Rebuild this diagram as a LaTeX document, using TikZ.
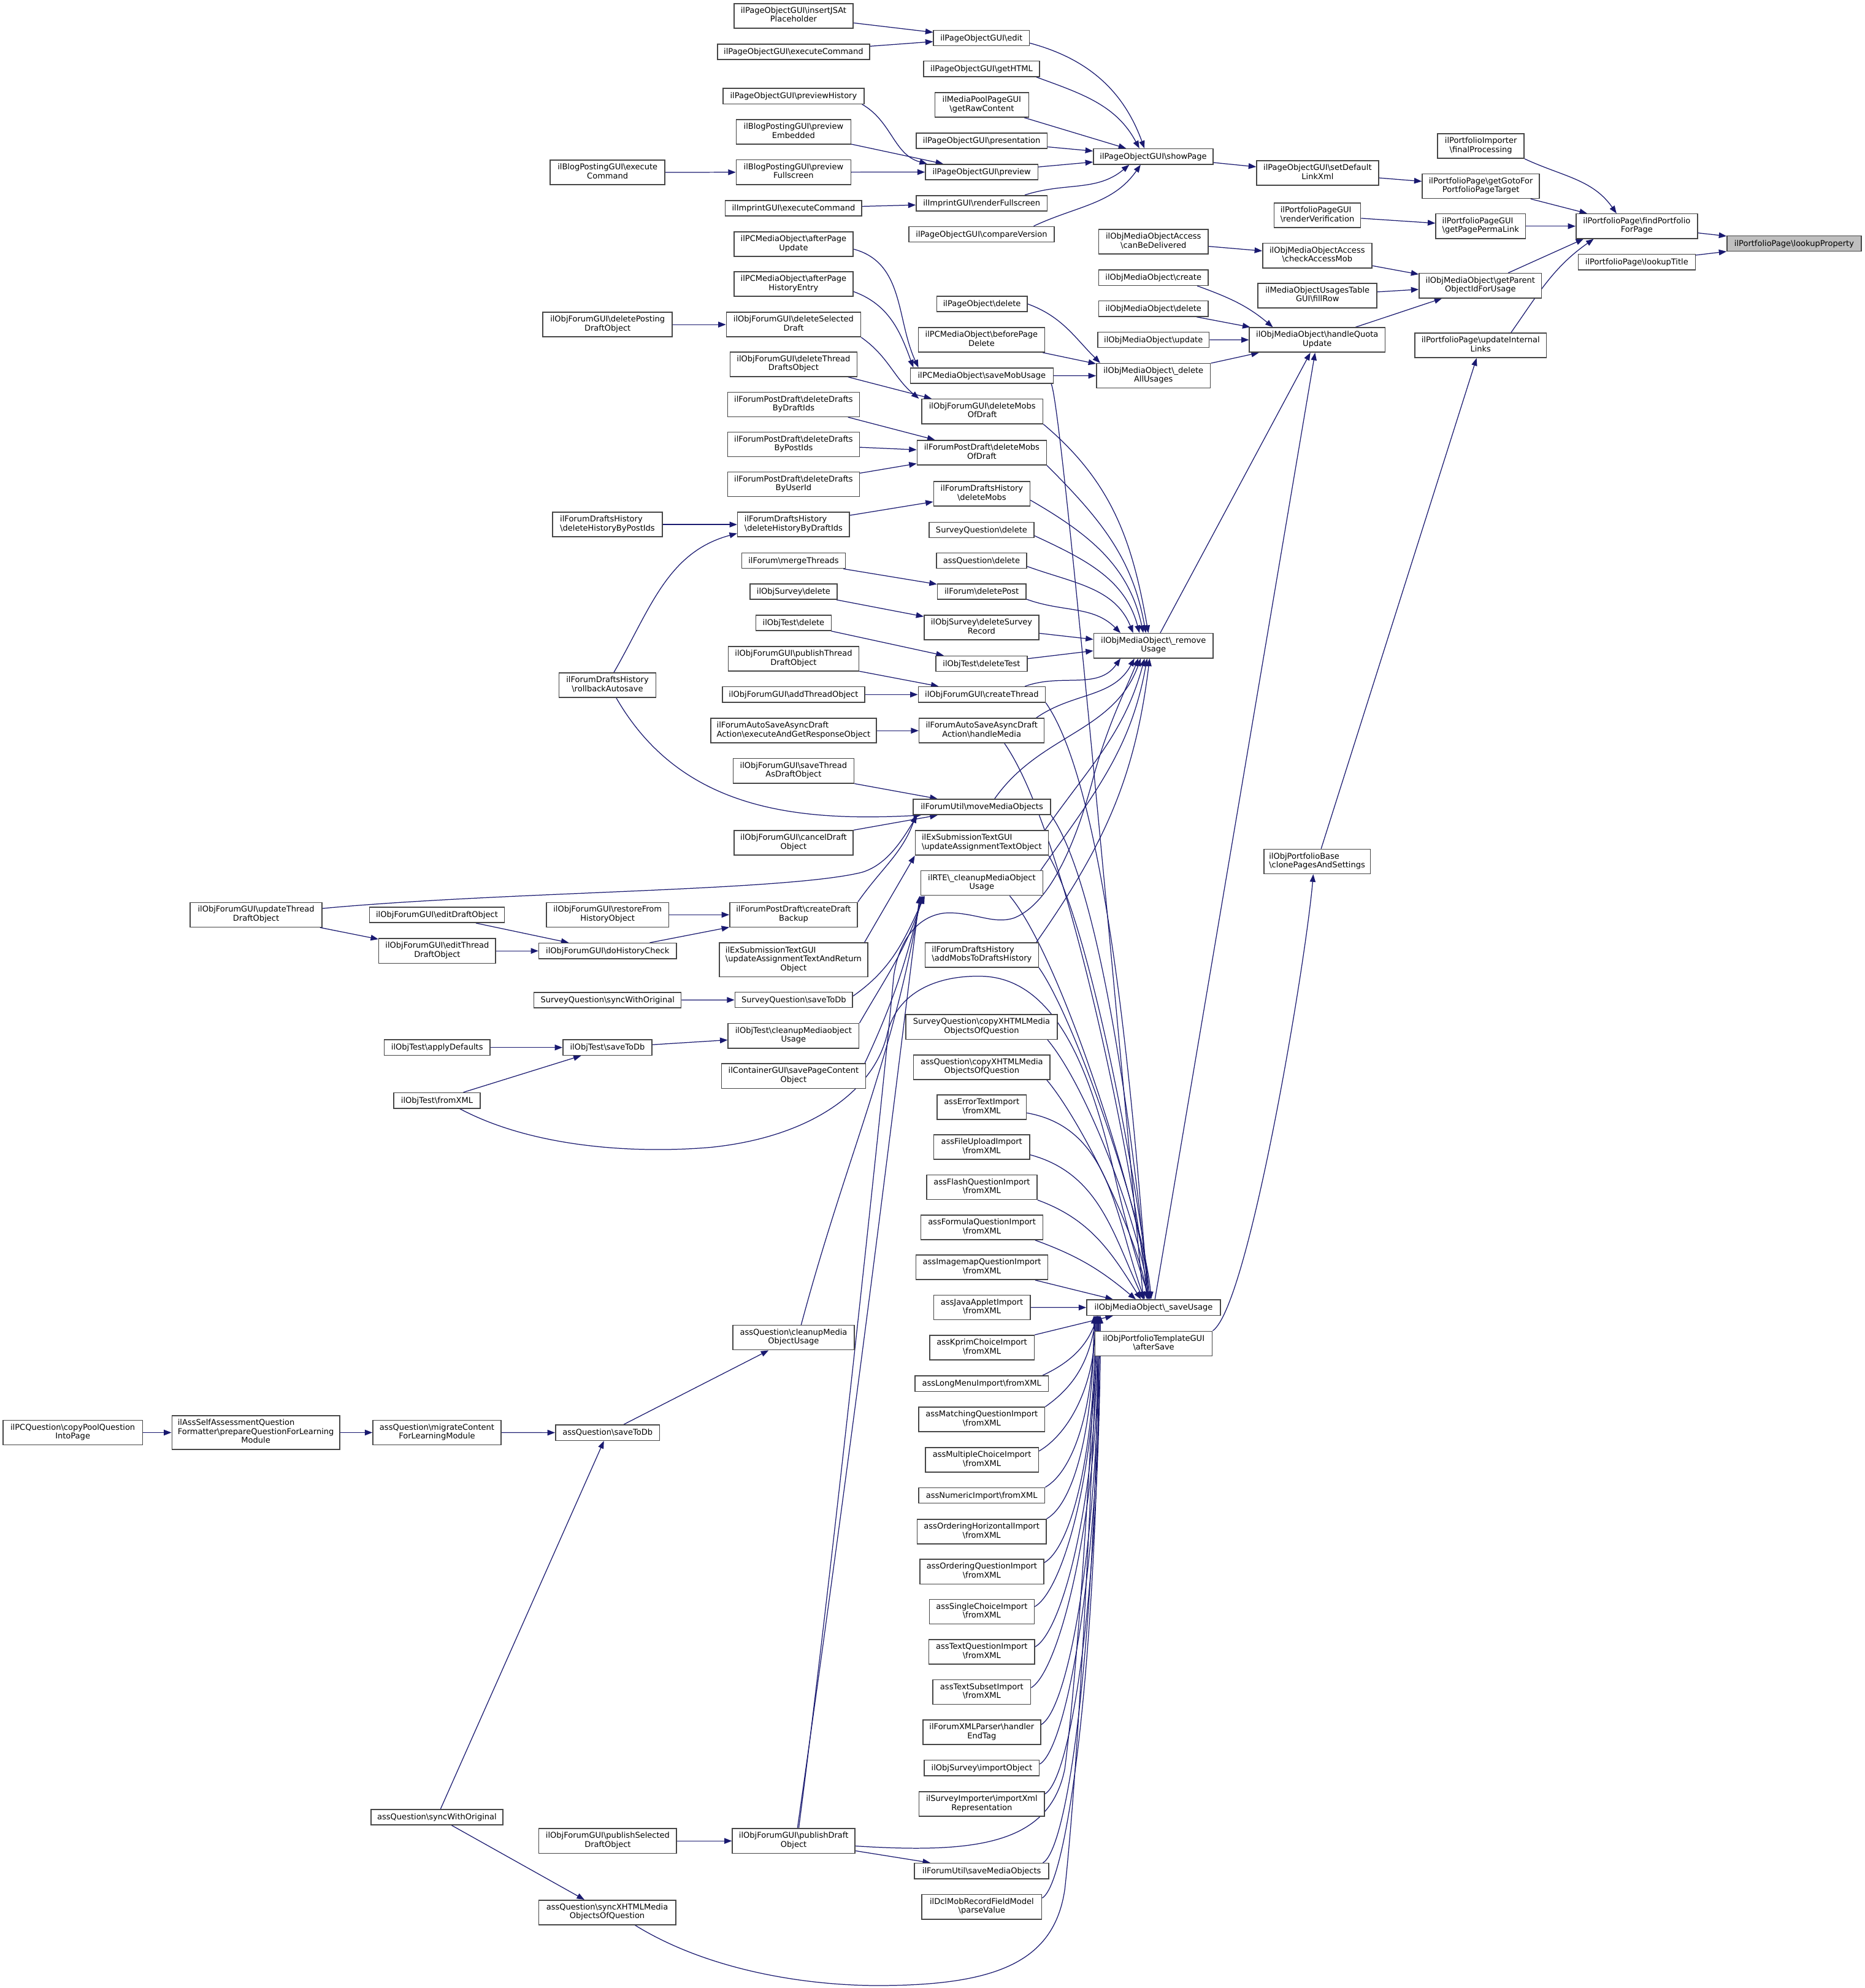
\documentclass[tikz,border=0pt]{standalone}
\usepackage{fontspec}
\newfontfamily\dvs{DejaVu Sans}
\usetikzlibrary{arrows.meta,backgrounds}
\definecolor{edgec}{RGB}{25,25,112}
\definecolor{boxc}{RGB}{70,70,70}
\definecolor{hlfill}{RGB}{191,191,191}
\newcommand\bs{\textbackslash}
\newcommand\TwoL[2]{\begin{tabular}{@{}c@{}}\multicolumn{1}{@{}l@{}}{#1}\\#2\end{tabular}}
\newcommand\ThreeL[3]{\begin{tabular}{@{}c@{}}\multicolumn{1}{@{}l@{}}{#1}\\#2\\#3\end{tabular}}
\begin{document}
\begin{tikzpicture}[x=1pt,y=1pt,
  bx/.style={draw=boxc,line width=0.75pt,fill=white,inner xsep=3pt,inner ysep=0pt,font=\dvs\fontsize{6.3}{7}\selectfont},
  b1/.style={bx,minimum height=12.2pt,text height=5.2pt,text depth=1.2pt},
  b2/.style={bx,minimum height=19.4pt},
  b3/.style={bx,minimum height=26.7pt},
  hl/.style={fill=hlfill},
  edg/.style={draw=edgec,line width=0.6pt,-{Triangle[length=6pt,width=4.5pt]}},
]
\useasboundingbox (0,0) rectangle (1471,-1568);
% column 1415
\node[b1,hl,minimum width=105.9pt] (lp) at (1415.3,-192.1) {ilPortfolioPage\bs lookupProperty};
% column 1291
\node[b2,minimum width=95.9pt] (fpp) at (1291.2,-178.4) {\TwoL{ilPortfolioPage\bs findPortfolio}{ForPage}};
\node[b1,minimum width=92.4pt] (lt) at (1291.2,-206.7) {ilPortfolioPage\bs lookupTitle};
% column 1168
\node[b2,minimum width=68.3pt] (fpi) at (1168.2,-115.2) {\TwoL{ilPortfolioImporter}{\bs finalProcessing}};
\node[b2,minimum width=92.5pt] (ggf) at (1168.2,-146.8) {\TwoL{ilPortfolioPage\bs getGotoFor}{PortfolioPageTarget}};
\node[b2,minimum width=70.7pt] (gppl) at (1168,-178.4) {\TwoL{ilPortfolioPageGUI}{\bs getPagePermaLink}};
\node[b2,minimum width=96.6pt] (gpo) at (1167.8,-225.3) {\TwoL{ilObjMediaObject\bs getParent}{ObjectIdForUsage}};
\node[b2,minimum width=103.6pt] (uil) at (1168,-272.4) {\TwoL{ilPortfolioPage\bs updateInternal}{Links}};
% column 1039
\node[b2,minimum width=96.2pt] (sdl) at (1039.4,-136.4) {\TwoL{ilPageObjectGUI\bs setDefault}{LinkXml}};
\node[b2,minimum width=68.3pt] (rv) at (1039.2,-169.9) {\TwoL{ilPortfolioPageGUI}{\bs renderVerification}};
\node[b2,minimum width=86.1pt] (cam) at (1039.1,-201.6) {\TwoL{ilObjMediaObjectAccess}{\bs checkAccessMob}};
\node[b2,minimum width=93.9pt] (fr) at (1039.3,-233.1) {\TwoL{ilMediaObjectUsagesTable}{GUI\bs fillRow}};
\node[b2,minimum width=107pt] (hqu) at (1039.1,-268.1) {\TwoL{ilObjMediaObject\bs handleQuota}{Update}};
\node[b2,minimum width=84pt] (cps) at (1039,-679.5) {\TwoL{ilObjPortfolioBase}{\bs clonePagesAndSettings}};
% column 910
\node[b1,minimum width=94.5pt] (sp) at (909.8,-123.5) {ilPageObjectGUI\bs showPage};
\node[b2,minimum width=86.3pt] (cbd) at (909.9,-190.6) {\TwoL{ilObjMediaObjectAccess}{\bs canBeDelivered}};
\node[b1,minimum width=86.3pt] (cre) at (909.9,-219) {ilObjMediaObject\bs create};
\node[b1,minimum width=86.3pt] (del) at (909.9,-243.5) {ilObjMediaObject\bs delete};
\node[b1,minimum width=87.8pt] (upd) at (909.9,-268) {ilObjMediaObject\bs update};
\node[b2,minimum width=89.9pt] (dau) at (909.9,-296.4) {\TwoL{ilObjMediaObject\bs\_delete}{AllUsages}};
\node[b2,minimum width=94.2pt] (rm) at (909.9,-509.3) {\TwoL{ilObjMediaObject\bs\_remove}{Usage}};
\node[b1,minimum width=105.5pt] (su) at (910,-1031.3) {ilObjMediaObject\bs\_saveUsage};
\node[b2,minimum width=92.4pt] (as) at (910.1,-1059.7) {\TwoL{ilObjPortfolioTemplateGUI}{\bs afterSave}};
% column 774
\node[b1,minimum width=75.6pt] (edit) at (774.2,-30) {ilPageObjectGUI\bs edit};
\node[b1,minimum width=91.5pt] (gh) at (774.3,-54.3) {ilPageObjectGUI\bs getHTML};
\node[b2,minimum width=74pt] (grc) at (774.5,-82.7) {\TwoL{ilMediaPoolPageGUI}{\bs getRawContent}};
\node[b1,minimum width=103.3pt] (pres) at (774.4,-111.1) {ilPageObjectGUI\bs presentation};
\node[b1,minimum width=88.7pt] (prev) at (774.4,-135.7) {ilPageObjectGUI\bs preview};
\node[b1,minimum width=103.3pt] (rf) at (774.4,-160.3) {ilImprintGUI\bs renderFullscreen};
\node[b1,minimum width=114.5pt] (cv) at (774.3,-184.8) {ilPageObjectGUI\bs compareVersion};
\node[b1,minimum width=71.3pt] (pod) at (774.6,-239.7) {ilPageObject\bs delete};
\node[b2,minimum width=99.5pt] (bpd) at (774.3,-268) {\TwoL{ilPCMediaObject\bs beforePage}{Delete}};
\node[b1,minimum width=112.8pt] (smu) at (774.5,-296.3) {ilPCMediaObject\bs saveMobUsage};
\node[b2,minimum width=95.6pt] (dmda) at (774.9,-324.5) {\TwoL{ilObjForumGUI\bs deleteMobs}{OfDraft}};
\node[b2,minimum width=102pt] (dmdb) at (774.5,-357) {\TwoL{ilForumPostDraft\bs deleteMobs}{OfDraft}};
\node[b2,minimum width=76pt] (dmob) at (774.5,-389.5) {\TwoL{ilForumDraftsHistory}{\bs deleteMobs}};
\node[b1,minimum width=82.6pt] (sqd) at (774.3,-418) {SurveyQuestion\bs delete};
\node[b1,minimum width=71.1pt] (aqd) at (774.3,-442.2) {assQuestion\bs delete};
\node[b1,minimum width=69.8pt] (dp) at (774.4,-466.6) {ilForum\bs deletePost};
\node[b2,minimum width=90.5pt] (dsr) at (774.3,-495) {\TwoL{ilObjSurvey\bs deleteSurvey}{Record}};
\node[b1,minimum width=72.1pt] (dt) at (774.3,-523.5) {ilObjTest\bs deleteTest};
\node[b1,minimum width=100.2pt] (ct) at (774.5,-547.8) {ilObjForumGUI\bs createThread};
\node[b2,minimum width=98.7pt] (hm) at (774.4,-576.3) {\TwoL{ilForumAutoSaveAsyncDraft}{Action\bs handleMedia}};
\node[b1,minimum width=108.3pt] (mmo) at (774.6,-636.5) {ilForumUtil\bs moveMediaObjects};
\node[b2,minimum width=104.9pt] (uato) at (774.5,-664.8) {\TwoL{ilExSubmissionTextGUI}{\bs updateAssignmentTextObject}};
\node[b2,minimum width=96.2pt] (cmu) at (774.5,-696.5) {\TwoL{ilRTE\bs\_cleanupMediaObject}{Usage}};
\node[b2,minimum width=89.4pt] (amdh) at (774.5,-753.2) {\TwoL{ilForumDraftsHistory}{\bs addMobsToDraftsHistory}};
\node[b2,minimum width=119.3pt] (sqc) at (774.3,-810) {\TwoL{SurveyQuestion\bs copyXHTMLMedia}{ObjectsOfQuestion}};
\node[b2,minimum width=107.7pt] (aqc) at (774.5,-841.7) {\TwoL{assQuestion\bs copyXHTMLMedia}{ObjectsOfQuestion}};
\node[b2,minimum width=70.4pt] (aet) at (774.4,-873.3) {\TwoL{assErrorTextImport}{\bs fromXML}};
\node[b2,minimum width=75.6pt] (afu) at (774.4,-904.8) {\TwoL{assFileUploadImport}{\bs fromXML}};
\node[b2,minimum width=87.2pt] (afl) at (774.5,-936.4) {\TwoL{assFlashQuestionImport}{\bs fromXML}};
\node[b2,minimum width=96.2pt] (afo) at (774.6,-968.1) {\TwoL{assFormulaQuestionImport}{\bs fromXML}};
\node[b2,minimum width=104pt] (aim) at (774.6,-999.6) {\TwoL{assImagemapQuestionImport}{\bs fromXML}};
\node[b2,minimum width=76.2pt] (aja) at (774.6,-1031.2) {\TwoL{assJavaAppletImport}{\bs fromXML}};
\node[b2,minimum width=82.6pt] (akc) at (774.6,-1062.9) {\TwoL{assKprimChoiceImport}{\bs fromXML}};
\node[b1,minimum width=105.2pt] (alm) at (774.4,-1091.3) {assLongMenuImport\bs fromXML};
\node[b2,minimum width=99.4pt] (amq) at (774.5,-1119.6) {\TwoL{assMatchingQuestionImport}{\bs fromXML}};
\node[b2,minimum width=89.3pt] (amc) at (774.6,-1151.5) {\TwoL{assMultipleChoiceImport}{\bs fromXML}};
\node[b1,minimum width=99.6pt] (anu) at (774.4,-1179.5) {assNumericImport\bs fromXML};
\node[b2,minimum width=101.8pt] (aoh) at (774.4,-1208) {\TwoL{assOrderingHorizontalImport}{\bs fromXML}};
\node[b2,minimum width=97.6pt] (aoq) at (774.5,-1239.6) {\TwoL{assOrderingQuestionImport}{\bs fromXML}};
\node[b2,minimum width=82.8pt] (asc) at (774.5,-1271.2) {\TwoL{assSingleChoiceImport}{\bs fromXML}};
\node[b2,minimum width=83.5pt] (atq) at (774.5,-1302.9) {\TwoL{assTextQuestionImport}{\bs fromXML}};
\node[b2,minimum width=77.2pt] (ats) at (774.5,-1334.6) {\TwoL{assTextSubsetImport}{\bs fromXML}};
\node[b2,minimum width=93pt] (fxp) at (774.5,-1366.2) {\TwoL{ilForumXMLParser\bs handler}{EndTag}};
\node[b1,minimum width=90.6pt] (sio) at (774.5,-1394.4) {ilObjSurvey\bs importObject};
\node[b2,minimum width=98.9pt] (sim) at (774.5,-1422.9) {\TwoL{ilSurveyImporter\bs importXml}{Representation}};
\node[b1,minimum width=105.9pt] (smo) at (774.4,-1475.7) {ilForumUtil\bs saveMediaObjects};
\node[b2,minimum width=94.5pt] (dcl) at (774.5,-1504) {\TwoL{ilDclMobRecordFieldModel}{\bs parseValue}};
% column 626
\node[b2,minimum width=94pt] (insJS) at (626,-12.5) {\TwoL{ilPageObjectGUI\bs insertJSAt}{Placeholder}};
\node[b1,minimum width=120pt] (exec) at (626,-40.9) {ilPageObjectGUI\bs executeCommand};
\node[b1,minimum width=111.4pt] (ph) at (626,-75.8) {ilPageObjectGUI\bs previewHistory};
\node[b2,minimum width=90.4pt] (pe) at (626,-104) {\TwoL{ilBlogPostingGUI\bs preview}{Embedded}};
\node[b2,minimum width=90.4pt] (pf) at (626,-135.8) {\TwoL{ilBlogPostingGUI\bs preview}{Fullscreen}};
\node[b1,minimum width=107.7pt] (iec) at (626,-164.2) {ilImprintGUI\bs executeCommand};
\node[b2,minimum width=94pt] (apu) at (626,-192.5) {\TwoL{ilPCMediaObject\bs afterPage}{Update}};
\node[b2,minimum width=94pt] (aphe) at (626,-224) {\TwoL{ilPCMediaObject\bs afterPage}{HistoryEntry}};
\node[b2,minimum width=106pt] (dsd) at (626,-256) {\TwoL{ilObjForumGUI\bs deleteSelected}{Draft}};
\node[b2,minimum width=100pt] (dtdo) at (626,-287.3) {\TwoL{ilObjForumGUI\bs deleteThread}{DraftsObject}};
\node[b2,minimum width=104pt] (ddbd) at (626,-319) {\TwoL{ilForumPostDraft\bs deleteDrafts}{ByDraftIds}};
\node[b2,minimum width=104pt] (ddbp) at (626,-350.5) {\TwoL{ilForumPostDraft\bs deleteDrafts}{ByPostIds}};
\node[b2,minimum width=104pt] (ddbu) at (626,-382) {\TwoL{ilForumPostDraft\bs deleteDrafts}{ByUserId}};
\node[b2,minimum width=88.3pt] (dhbd) at (626,-413.7) {\TwoL{ilForumDraftsHistory}{\bs deleteHistoryByDraftIds}};
\node[b1,minimum width=81.8pt] (mt) at (626,-442.2) {ilForum\bs mergeThreads};
\node[b1,minimum width=68.9pt] (osd) at (626,-466.6) {ilObjSurvey\bs delete};
\node[b1,minimum width=59.4pt] (otd) at (626,-491.3) {ilObjTest\bs delete};
\node[b2,minimum width=103.1pt] (ptdo) at (626,-519.6) {\TwoL{ilObjForumGUI\bs publishThread}{DraftObject}};
\node[b1,minimum width=112.2pt] (ato) at (626,-547.8) {ilObjForumGUI\bs addThreadObject};
\node[b2,minimum width=130.8pt] (eagr) at (626,-576.3) {\TwoL{ilForumAutoSaveAsyncDraft}{Action\bs executeAndGetResponseObject}};
\node[b2,minimum width=95.4pt] (stad) at (626,-608) {\TwoL{ilObjForumGUI\bs saveThread}{AsDraftObject}};
\node[b2,minimum width=94pt] (cdo) at (626,-664.8) {\TwoL{ilObjForumGUI\bs cancelDraft}{Object}};
\node[b2,minimum width=100.7pt] (cdb) at (626,-721.5) {\TwoL{ilForumPostDraft\bs createDraft}{Backup}};
\node[b3,minimum width=117.2pt] (uatr) at (626,-757) {\ThreeL{ilExSubmissionTextGUI}{\bs updateAssignmentTextAndReturn}{Object}};
\node[b1,minimum width=92.8pt] (sqsd) at (626.2,-788.6) {SurveyQuestion\bs saveToDb};
\node[b2,minimum width=103.3pt] (tcmu) at (626,-817) {\TwoL{ilObjTest\bs cleanupMediaobject}{Usage}};
\node[b2,minimum width=113.6pt] (spco) at (626,-848.7) {\TwoL{ilContainerGUI\bs savePageContent}{Object}};
\node[b2,minimum width=95.6pt] (aqcmu) at (626,-1055) {\TwoL{assQuestion\bs cleanupMedia}{ObjectUsage}};
\node[b2,minimum width=96.7pt] (pdo) at (626.1,-1452) {\TwoL{ilObjForumGUI\bs publishDraft}{Object}};
% column 479
\node[b2,minimum width=90.5pt] (bpe) at (479.3,-136) {\TwoL{ilBlogPostingGUI\bs execute}{Command}};
\node[b2,minimum width=102.1pt] (dpdo) at (479.3,-256) {\TwoL{ilObjForumGUI\bs deletePosting}{DraftObject}};
\node[b2,minimum width=86.8pt] (dhbp) at (479.2,-413.7) {\TwoL{ilForumDraftsHistory}{\bs deleteHistoryByPostIds}};
\node[b2,minimum width=76.3pt] (rba) at (479.2,-540.5) {\TwoL{ilForumDraftsHistory}{\bs rollbackAutosave}};
\node[b2,minimum width=96.6pt] (rfh) at (479.3,-721.5) {\TwoL{ilObjForumGUI\bs restoreFrom}{HistoryObject}};
\node[b1,minimum width=108.4pt] (dhc) at (479.3,-750) {ilObjForumGUI\bs doHistoryCheck};
\node[b1,minimum width=116.1pt] (sqs) at (479.3,-788.8) {SurveyQuestion\bs syncWithOriginal};
\node[b1,minimum width=70.3pt] (tsd) at (479.2,-826.2) {ilObjTest\bs saveToDb};
\node[b1,minimum width=82.2pt] (aqsd) at (479.3,-1130) {assQuestion\bs saveToDb};
\node[b2,minimum width=108.7pt] (psdo) at (479.4,-1452) {\TwoL{ilObjForumGUI\bs publishSelected}{DraftObject}};
\node[b2,minimum width=108.1pt] (sxm) at (479,-1508.4) {\TwoL{assQuestion\bs syncXHTMLMedia}{ObjectsOfQuestion}};
% column 345
\node[b1,minimum width=106.4pt] (edo) at (344.7,-721.6) {ilObjForumGUI\bs editDraftObject};
\node[b2,minimum width=92.2pt] (etdo) at (344.9,-750) {\TwoL{ilObjForumGUI\bs editThread}{DraftObject}};
\node[b1,minimum width=83.5pt] (tad) at (344.8,-826.2) {ilObjTest\bs applyDefaults};
\node[b1,minimum width=68pt] (tfx) at (344.7,-868) {ilObjTest\bs fromXML};
\node[b2,minimum width=101.1pt] (mc) at (344.7,-1129.9) {\TwoL{assQuestion\bs migrateContent}{ForLearningModule}};
\node[b1,minimum width=104pt] (aqswo) at (344.7,-1433.2) {assQuestion\bs syncWithOriginal};
% far left
\node[b2,minimum width=104pt] (utdo) at (202,-721.5) {\TwoL{ilObjForumGUI\bs updateThread}{DraftObject}};
\node[b3,minimum width=132.4pt] (pq) at (201.8,-1129.9) {\ThreeL{ilAssSelfAssessmentQuestion}{Formatter\bs prepareQuestionForLearning}{Module}};
\node[b2,minimum width=110pt] (cpq) at (57.4,-1129.9) {\TwoL{ilPCQuestion\bs copyPoolQuestion}{IntoPage}};

\begin{pgfonlayer}{background}
\fill[white] (0,0) rectangle (1471,-1568);
% top block
\draw[edg] (insJS) -- (edit);
\draw[edg] (exec) -- (edit);
\draw[edg] ([yshift=-4pt]edit.east) to[out=-15,in=110] ([xshift=-7pt]sp.north);
\draw[edg] ([xshift=-3pt]gh.south east) to[out=-20,in=118] ([xshift=-11pt]sp.north);
\draw[edg] (grc) -- (sp);
\draw[edg] (pres) -- (sp);
\draw[edg] (prev) -- (sp);
\draw[edg] ([xshift=-18pt]rf.north east) to[out=18,in=-140] ([xshift=-19pt]sp.south);
\draw[edg] ([xshift=-16.5pt]cv.north east) to[out=25,in=-125] ([xshift=-10pt]sp.south);
\draw[edg] ([xshift=-2pt]ph.south east) to[out=-30,in=165] ([xshift=-43pt]prev.north);
\draw[edg] (pe) -- (prev);
\draw[edg] (pf) -- (prev);
\draw[edg] (bpe) -- (pf);
\draw[edg] (iec) -- (rf);
\draw[edg] (sp) -- (sdl);
\draw[edg] (sdl) -- (ggf);
\draw[edg] (rv) -- (gppl);
\draw[edg] (ggf) -- (fpp);
\draw[edg] (fpi.south east) to[out=-25,in=125] ([xshift=-16pt]fpp.north);
\draw[edg] (gppl) -- (fpp);
\draw[edg] ([xshift=22pt]gpo.north) -- ([xshift=-42pt]fpp.south);
\draw[edg] ([xshift=24pt]uil.north) to[out=55,in=-145] ([xshift=-34pt]fpp.south);
\draw[edg] (fpp) -- (lp);
\draw[edg] (lt) -- (lp);
\draw[edg] (cbd) -- (cam);
\draw[edg] (cam) -- (gpo);
\draw[edg] (fr) -- (gpo);
\draw[edg] (hqu) -- (gpo);
\draw[edg] ([xshift=-9pt]cre.south east) to[out=-20,in=140] ([xshift=-35pt]hqu.north);
\draw[edg] (del) -- (hqu);
\draw[edg] (upd) -- (hqu);
\draw[edg] (dau) -- (hqu);
\draw[edg] (rm) -- (hqu);
\draw[edg] (su) -- (hqu);
\draw[edg] (as.north east) .. controls (985,-1030) and (1030,-760) .. ([xshift=-3pt]cps.south);
\draw[edg] (cps) -- (uil);
\draw[edg] (pod.east) to[out=-20,in=135] ([xshift=-42pt]dau.north);
\draw[edg] (bpd) -- (dau);
\draw[edg] (smu) -- (dau);
\draw[edg] ([xshift=-2pt]smu.south east) .. controls (838,-320) and (885,-850) .. ([xshift=-8pt]su.north);
\draw[edg] ([yshift=-4pt]apu.east) to[out=-15,in=115] ([xshift=-50pt]smu.north);
\draw[edg] ([yshift=-6pt]aphe.east) to[out=-20,in=110] ([xshift=-54pt]smu.north);
\draw[edg] (dsd.south east) to[out=-35,in=140] ([xshift=-50pt]dmda.north);
\draw[edg] ([xshift=43pt]dtdo.south) -- ([xshift=-40pt]dmda.north);
\draw[edg] (dpdo) -- (dsd);
\draw[edg] ([xshift=43pt]ddbd.south) -- ([xshift=-37pt]dmdb.north);
\draw[edg] (ddbp) -- (dmdb);
\draw[edg] (ddbu) -- (dmdb);
\draw[edg] (dhbd) -- (dmob);
\draw[edg] (dhbp) -- (dhbd);
\draw[edg] ([xshift=5pt]rba.north) to[out=60,in=195] ([yshift=-7pt]dhbd.west);
\draw[edg] ([xshift=7pt]rba.south) to[out=-60,in=183] ([xshift=-48pt]mmo.south);
\draw[edg] (mt) -- (dp);
\draw[edg] (osd) -- (dsr);
\draw[edg] (otd) -- (dt);
\draw[edg] (ptdo) -- (ct);
\draw[edg] (ato) -- (ct);
\draw[edg] (eagr) -- (hm);
\draw[edg] (stad.south east) -- ([xshift=-35pt]mmo.north);
\draw[edg] (cdo.north east) -- ([xshift=-35pt]mmo.south);
\draw[edg] (cdb.north east) to[out=55,in=-110] ([xshift=-52pt]mmo.south);
\draw[edg] ([yshift=5pt]utdo.east) .. controls (400,-703) and (620,-703) .. (680,-688) .. controls (700,-682) and (712,-662) .. ([xshift=-51pt]mmo.south);
\draw[edg] ([xshift=-3pt]uatr.north east) to[out=60,in=-120] (uato.south west);
\draw[edg] (sqs) -- (sqsd);
\draw[edg] ([yshift=3pt]sqsd.east) to[out=35,in=-115] ([xshift=-45pt]cmu.south);
\draw[edg] (tsd) -- (tcmu);
\draw[edg] (tad) -- (tsd);
\draw[edg] (tfx) -- (tsd);
\draw[edg] (tcmu.north east) to[out=60,in=-108] ([xshift=-46pt]cmu.south);
\draw[edg] ([xshift=-1pt]spco.north east) to[out=65,in=-104] ([xshift=-47pt]cmu.south);
\draw[edg] ([xshift=6pt]aqcmu.north) to[out=75,in=-100] ([xshift=-48pt]cmu.south);
\draw[edg] ([xshift=3pt]pdo.north) to[out=82,in=-97] ([xshift=-49pt]cmu.south);
\draw[edg] (rfh) -- (cdb);
\draw[edg] (dhc) -- (cdb);
\draw[edg] (edo) -- (dhc);
\draw[edg] (etdo) -- (dhc);
\draw[edg] (utdo) -- (etdo);
\draw[edg] (aqsd) -- (aqcmu);
\draw[edg] (mc) -- (aqsd);
\draw[edg] (pq) -- (mc);
\draw[edg] (cpq) -- (pq);
\draw[edg] (aqswo) -- (aqsd);
\draw[edg] (aqswo) -- (sxm);
\draw[edg] (psdo) -- (pdo);
\draw[edg] (pdo) -- (smo);
% into _removeUsage
\draw[edg] (dmda.south east) to[out=-40,in=100] ([xshift=-4pt]rm.north);
\draw[edg] (dmdb.south east) to[out=-45,in=100] ([xshift=-6pt]rm.north);
\draw[edg] ([yshift=-5pt]dmob.east) to[out=-30,in=102] ([xshift=-8pt]rm.north);
\draw[edg] ([yshift=-4.5pt]sqd.east) to[out=-25,in=105] ([xshift=-11pt]rm.north);
\draw[edg] ([yshift=-4.5pt]aqd.east) to[out=-20,in=112] ([xshift=-16pt]rm.north);
\draw[edg] ([yshift=-6pt]dp.east) to[out=-20,in=135] ([xshift=-26pt]rm.north);
\draw[edg] ([yshift=-4.5pt]dsr.east) -- ([yshift=5pt]rm.west);
\draw[edg] ([yshift=4pt]dt.east) -- ([yshift=-4pt]rm.west);
\draw[edg] ([xshift=34pt]ct.north) to[out=20,in=-125] ([xshift=-26pt]rm.south);
\draw[edg] ([xshift=43pt]hm.north) to[out=35,in=-118] ([xshift=-15pt]rm.south);
\draw[edg] ([xshift=10pt]mmo.north) to[out=55,in=-110] ([xshift=-10pt]rm.south);
\draw[edg] ([xshift=-3pt]uato.north east) to[out=55,in=-105] ([xshift=-7pt]rm.south);
\draw[edg] ([xshift=-2pt]cmu.north east) to[out=55,in=-100] ([xshift=-5pt]rm.south);
\draw[edg] ([xshift=-2pt]amdh.north east) to[out=55,in=-97] ([xshift=-3pt]rm.south);
\draw[edg] ([xshift=4pt]pdo.north) .. controls (655,-1250) and (695,-880) .. (705,-770) .. controls (710,-735) and (730,-719) .. (751,-720) .. controls (772,-721) and (785,-729) .. (800,-724) .. controls (830,-712) and (850,-660) .. (862,-615) .. controls (874,-570) and (890,-540) .. ([xshift=-12pt]rm.south);
% into _saveUsage from above
\draw[edg] (ct.south east) to[out=-55,in=95,looseness=0.5] ([xshift=-4pt]su.north);
\draw[edg] ([xshift=18pt]hm.south) to[out=-55,in=95,looseness=0.5] ([xshift=-5pt]su.north);
\draw[edg] (mmo.south east) to[out=-55,in=95,looseness=0.5] ([xshift=-4pt]su.north);
\draw[edg] (uato.south east) to[out=-60,in=95,looseness=0.5] ([xshift=-3pt]su.north);
\draw[edg] ([xshift=22pt]cmu.south) to[out=-50,in=95,looseness=0.5] ([xshift=-3pt]su.north);
\draw[edg] (amdh.south east) to[out=-55,in=94,looseness=0.5] ([xshift=-2pt]su.north);
\draw[edg] ([xshift=18pt]tfx.south) .. controls (420,-905) and (500,-910) .. (560,-905) .. controls (640,-897) and (690,-860) .. (700,-815) .. controls (708,-782) and (740,-769) .. (775,-770) .. controls (835,-772) and (862,-850) .. (880,-930) .. controls (893,-985) and (902,-1010) .. ([xshift=-3pt]su.north);
\draw[edg] ([xshift=-8pt]sqc.south east) to[out=-50,in=96,looseness=0.6] ([xshift=-4pt]su.north);
\draw[edg] ([xshift=-3pt]aqc.south east) to[out=-50,in=97,looseness=0.6] ([xshift=-5pt]su.north);
\draw[edg] ([yshift=-4.5pt]aet.east) to[out=-10,in=110] ([xshift=-7pt]su.north);
\draw[edg] ([yshift=-6pt]afu.east) to[out=-15,in=115] ([xshift=-8pt]su.north);
\draw[edg] (afl.south east) to[out=-20,in=122] ([xshift=-10pt]su.north);
\draw[edg] ([xshift=42pt]afo.south) to[out=-20,in=140] ([xshift=-14pt]su.north);
\draw[edg] ([xshift=42pt]aim.south) -- ([xshift=-32pt]su.north);
\draw[edg] (aja) -- (su);
% into _saveUsage from below
\draw[edg] (akc.north east) -- ([xshift=-32pt]su.south);
\draw[edg] ([xshift=-5pt]alm.north east) to[out=25,in=-110] ([xshift=-44pt]su.south);
\draw[edg] (amq.north east) to[out=35,in=-100] ([xshift=-45pt]su.south);
\draw[edg] ([yshift=7pt]amc.east) to[out=30,in=-90,out distance=25pt,in distance=58pt] ([xshift=-46pt]su.south);
\draw[edg] (anu.north east) to[out=30,in=-90,out distance=25pt,in distance=75pt] ([xshift=-47pt]su.south);
\draw[edg] (aoh.north east) to[out=30,in=-90,out distance=25pt,in distance=88pt] ([xshift=-47pt]su.south);
\draw[edg] ([yshift=7pt]aoq.east) to[out=30,in=-90,out distance=25pt,in distance=107pt] ([xshift=-46pt]su.south);
\draw[edg] ([yshift=4pt]asc.east) to[out=30,in=-90,out distance=25pt,in distance=126pt] ([xshift=-45pt]su.south);
\draw[edg] ([yshift=4pt]atq.east) to[out=30,in=-90,out distance=25pt,in distance=144pt] ([xshift=-44pt]su.south);
\draw[edg] ([yshift=3.5pt]ats.east) to[out=30,in=-90,out distance=25pt,in distance=161pt] ([xshift=-43pt]su.south);
\draw[edg] ([yshift=6pt]fxp.east) to[out=30,in=-90,out distance=25pt,in distance=177pt] ([xshift=-43pt]su.south);
\draw[edg] ([yshift=3pt]sio.east) to[out=30,in=-90,out distance=25pt,in distance=194pt] ([xshift=-42pt]su.south);
\draw[edg] ([yshift=8pt]sim.east) to[out=30,in=-90,out distance=25pt,in distance=207pt] ([xshift=-42pt]su.south);
\draw[edg] ([yshift=-4pt]pdo.east) .. controls (770,-1462) and (828,-1455) .. (840,-1395) .. controls (852,-1300) and (862,-1120) .. ([xshift=-45pt]su.south);
\draw[edg] ([xshift=-5pt]smo.north east) to[out=30,in=-90,out distance=25pt,in distance=237pt] ([xshift=-44pt]su.south);
\draw[edg] ([yshift=7pt]dcl.east) to[out=30,in=-90,out distance=25pt,in distance=252pt] ([xshift=-43pt]su.south);
\draw[edg] ([xshift=22pt]sxm.south) .. controls (560,-1555) and (640,-1567) .. (700,-1566) .. controls (790,-1565) and (832,-1545) .. (840,-1490) .. controls (852,-1380) and (862,-1150) .. ([xshift=-44pt]su.south);
\end{pgfonlayer}
\end{tikzpicture}
\end{document}
